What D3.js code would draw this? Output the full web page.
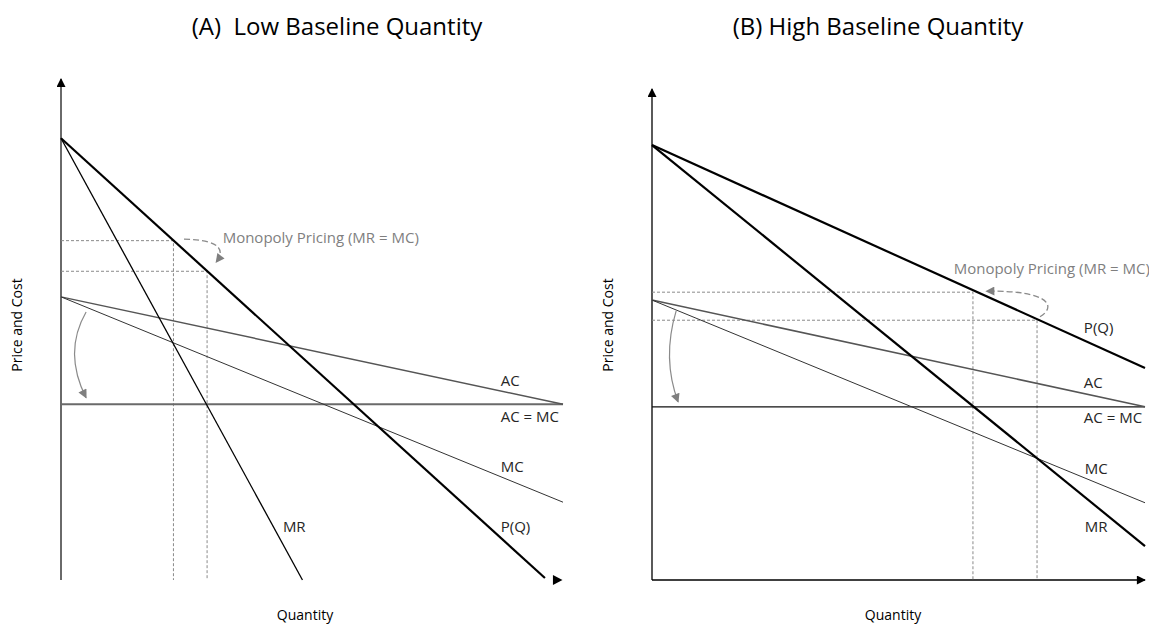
<!DOCTYPE html>
<html>
<head>
<meta charset="utf-8">
<script src="https://cdn.jsdelivr.net/npm/d3@7"></script>
<style>
  body { margin: 0; background: #fff; }
  svg { display: block; font-family: "Open Sans", sans-serif; }
</style>
</head>
<body>
<svg id="chart" width="1149" height="625"></svg>
<script>
// values, quantity 0..100, price 0..100 on each panel
var panelTitles = ["(A)  Low Baseline Quantity", "(B) High Baseline Quantity"];

// lines as [q0, p0, q1, p1]
var demandA = [0, 88, 96.4, 0.4];
var mrA = [0, 88, 48.1, 0];
var acA = [0, 56.4, 100, 35];
var mcA = [0, 56.4, 100, 15.5];
var flatA = [0, 35, 100, 35];
var guidesA = [[22.4, 67.6], [29.1, 61.5]];

var demandB = [0, 88.4, 100, 43.1];
var mrB = [0, 88.4, 100, 6.9];
var acB = [0, 56.9, 100, 35.2];
var mcB = [0, 56.9, 100, 15.7];
var flatB = [0, 35.2, 100, 35.2];
var guidesB = [[65.1, 58.5], [78.1, 52.8]];

// curve labels: [text, q, p]
var labelsA = [["AC", 87.6, 38.6], ["AC = MC", 87.6, 31.5], ["MC", 87.6, 21.5], ["P(Q)", 87.6, 9.6], ["MR", 44.2, 9.6]];
var labelsB = [["P(Q)", 87.6, 50.2], ["AC", 87.6, 39], ["AC = MC", 87.6, 31.9], ["MC", 87.8, 21.5], ["MR", 87.8, 9.8]];

// annotation arrows: control points [q, p]
var monoArrowA = [[24.5, 67.9], [32.6, 67.7], [32.4, 65.3], [30.9, 63.3]];
var shiftArrowA = [[5, 53.4], [0.4, 45.4], [5, 36.3]];
var monoArrowB = [[78.7, 53.5], [82, 55.5], [81, 58.9], [67.8, 58.7]];
var shiftArrowB = [[4.9, 54.7], [2, 45], [5.3, 36.2]];

var panels = [
  { title: panelTitles[0], x0: 61, x1: 563, yTop: 78, yBot: 580, pTop: 100, titleX: 337,
    demand: demandA, mr: mrA, ac: acA, mc: mcA, flat: flatA, guides: guidesA, labels: labelsA,
    mono: monoArrowA, shift: shiftArrowA, monoText: [32.2, 67.2], thickMR: false, xAxis: false,
    flatColor: "#6a6a6a", flatWidth: 2, quantityX: 305, yLabelX: 22 },
  { title: panelTitles[1], x0: 652, x1: 1145, yTop: 88, yBot: 580, pTop: 100, titleX: 878,
    demand: demandB, mr: mrB, ac: acB, mc: mcB, flat: flatB, guides: guidesB, labels: labelsB,
    mono: monoArrowB, shift: shiftArrowB, monoText: [61.2, 62.1], thickMR: true, xAxis: true,
    flatColor: "#111", flatWidth: 1.3, quantityX: 893, yLabelX: 613 }
];

var svg = d3.select("#chart");

var defs = svg.append("defs");
function marker(id, color, w, h) {
  defs.append("marker")
    .attr("id", id)
    .attr("viewBox", "0 0 10 10")
    .attr("refX", 9).attr("refY", 5)
    .attr("markerWidth", w).attr("markerHeight", h)
    .attr("markerUnits", "userSpaceOnUse")
    .attr("orient", "auto")
    .append("path")
    .attr("d", "M0,0L10,5L0,10Z")
    .attr("fill", color);
}
marker("axisArrow", "#000", 10, 9);
marker("grayArrow", "#7f7f7f", 11, 9);

panels.forEach(function(pn) {
  var x = d3.scaleLinear().domain([0, 100]).range([pn.x0, pn.x1]);
  var y = d3.scaleLinear().domain([0, pn.pTop]).range([pn.yBot, pn.yTop]);
  var g = svg.append("g");

  g.append("text")
    .attr("x", pn.titleX).attr("y", 35)
    .attr("text-anchor", "middle")
    .attr("font-size", "24px")
    .attr("fill", "#000")
    .style("white-space", "pre")
    .text(pn.title);

  // axes
  g.append("line")
    .attr("x1", x(0)).attr("x2", x(0))
    .attr("y1", y(0)).attr("y2", y(pn.pTop) + 1)
    .attr("stroke", pn.xAxis ? "#000" : "#6a6a6a")
    .attr("stroke-width", pn.xAxis ? 1.3 : 2)
    .attr("marker-end", "url(#axisArrow)");
  if (pn.xAxis) {
    g.append("line")
      .attr("x1", x(0)).attr("x2", x(100))
      .attr("y1", y(0)).attr("y2", y(0))
      .attr("stroke", "#000").attr("stroke-width", 1.3)
      .attr("marker-end", "url(#axisArrow)");
  } else {
    // only the arrow tip of the quantity axis is drawn in panel A
    g.append("path")
      .attr("d", d3.line()([[x(98) , y(0) - 5], [x(99.9), y(0)], [x(98), y(0) + 5]]))
      .attr("fill", "#000");
  }

  // dashed guides
  pn.guides.forEach(function(gd) {
    g.append("path")
      .attr("d", d3.line()([[x(0), y(gd[1])], [x(gd[0]), y(gd[1])], [x(gd[0]), y(0)]]))
      .attr("fill", "none")
      .attr("stroke", "#8a8a8a")
      .attr("stroke-width", 1)
      .attr("stroke-dasharray", "3,2");
  });

  function seg(l, color, w) {
    g.append("line")
      .attr("x1", x(l[0])).attr("y1", y(l[1]))
      .attr("x2", x(l[2])).attr("y2", y(l[3]))
      .attr("stroke", color).attr("stroke-width", w);
  }
  seg(pn.flat, pn.flatColor, pn.flatWidth);
  seg(pn.ac, "#555", 1.5);
  seg(pn.mc, "#333", 1);
  seg(pn.mr, "#000", pn.thickMR ? 2.2 : 1.3);
  seg(pn.demand, "#000", 2.2);

  // monopoly pricing arrow
  var m = pn.mono.map(function(d) { return [x(d[0]), y(d[1])]; });
  var pm = d3.path();
  pm.moveTo(m[0][0], m[0][1]);
  pm.bezierCurveTo(m[1][0], m[1][1], m[2][0], m[2][1], m[3][0], m[3][1]);
  g.append("path")
    .attr("d", pm.toString())
    .attr("fill", "none")
    .attr("stroke", "#8a8a8a")
    .attr("stroke-width", 1.3)
    .attr("stroke-dasharray", "6,3")
    .attr("marker-end", "url(#grayArrow)");

  // shift arrow AC -> AC = MC
  var s = pn.shift.map(function(d) { return [x(d[0]), y(d[1])]; });
  var ps = d3.path();
  ps.moveTo(s[0][0], s[0][1]);
  ps.quadraticCurveTo(s[1][0], s[1][1], s[2][0], s[2][1]);
  g.append("path")
    .attr("d", ps.toString())
    .attr("fill", "none")
    .attr("stroke", "#8a8a8a")
    .attr("stroke-width", 1.2)
    .attr("marker-end", "url(#grayArrow)");

  g.append("text")
    .attr("x", x(pn.monoText[0])).attr("y", y(pn.monoText[1]))
    .attr("font-size", "15px")
    .attr("fill", "#7f7f7f")
    .text("Monopoly Pricing (MR = MC)");

  g.selectAll(".lbl")
    .data(pn.labels)
    .enter().append("text")
    .attr("x", function(d) { return x(d[1]); })
    .attr("y", function(d) { return y(d[2]); })
    .attr("font-size", "15px")
    .attr("fill", "#262626")
    .text(function(d) { return d[0]; });

  g.append("text")
    .attr("x", pn.quantityX).attr("y", 620)
    .attr("text-anchor", "middle")
    .attr("font-size", "14px")
    .attr("fill", "#000")
    .text("Quantity");

  g.append("text")
    .attr("transform", "translate(" + pn.yLabelX + "," + 325 + ") rotate(-90)")
    .attr("text-anchor", "middle")
    .attr("font-size", "14px")
    .attr("fill", "#000")
    .text("Price and Cost");
});
</script>
</body>
</html>
